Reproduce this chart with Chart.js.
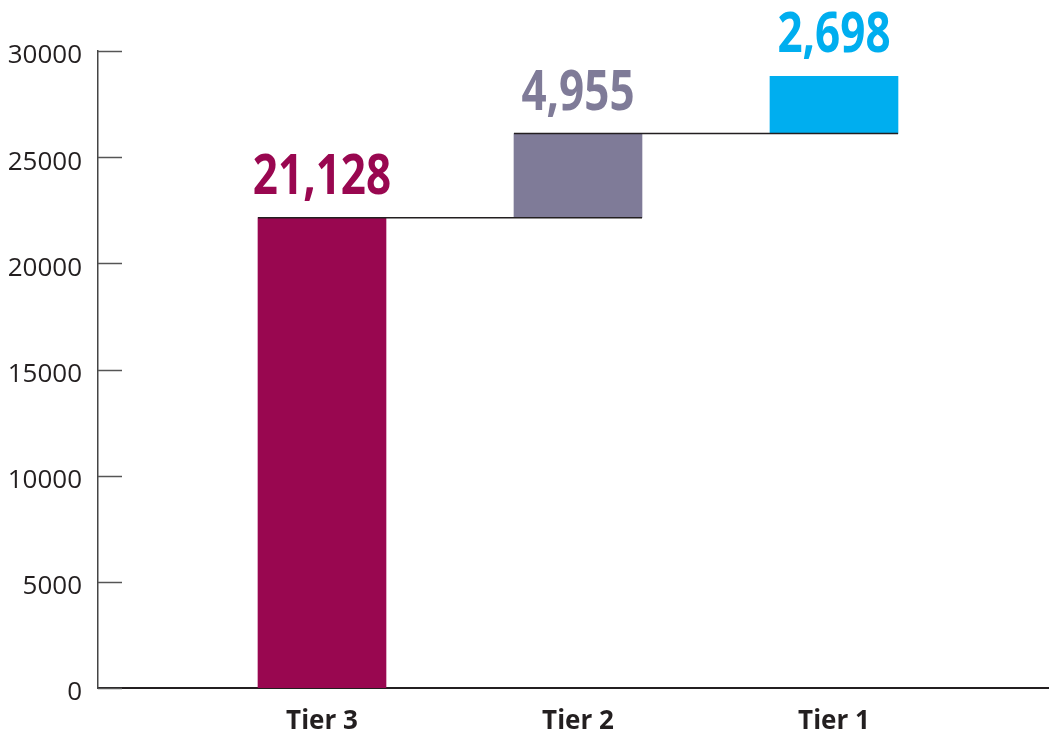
<!DOCTYPE html>
<html>
<head>
<meta charset="utf-8">
<script src="https://cdn.jsdelivr.net/npm/chart.js@4/dist/chart.umd.min.js"></script>
<style>
  html, body { margin: 0; padding: 0; background: #fff; }
  #wrap { width: 1049px; height: 738px; }
</style>
</head>
<body>
<div id="wrap"><canvas id="chart"></canvas></div>
<script>
// data
const categories = ['Tier 3', 'Tier 2', 'Tier 1'];
const valueLabels = ['21,128', '4,955', '2,698'];
const barStart = [0, 22150, 26110];
const barEnd = [22150, 26110, 28810];
const barColors = ['#990750', '#7f7b98', '#00aeef'];
const yTicks = [0, 5000, 10000, 15000, 20000, 25000, 30000];

// floating bars for the waterfall
const barData = categories.map((c, i) => ({ x: i, y: [barStart[i], barEnd[i]] }));

// connector lines across the top of each step
const connector1 = [{ x: -0.25, y: barEnd[0] }, { x: 1.25, y: barEnd[0] }];
const connector2 = [{ x: 0.75, y: barEnd[1] }, { x: 2.25, y: barEnd[1] }];

// value text over each bar + inward tick marks on the y axis
const extras = {
    id: 'extras',
    afterDatasetsDraw(chart) {
        const ctx = chart.ctx;
        const meta = chart.getDatasetMeta(0);
        ctx.save();
        ctx.font = 'bold 55px "Open Sans", sans-serif';
        ctx.textAlign = 'center';
        ctx.textBaseline = 'alphabetic';
        meta.data.forEach((bar, i) => {
            ctx.save();
            ctx.translate(bar.x, bar.y - 24);
            ctx.scale(0.8, 1); // condensed look
            ctx.fillStyle = barColors[i];
            ctx.fillText(valueLabels[i], 0, 0);
            ctx.restore();
        });

        const yScale = chart.scales.y;
        const left = chart.chartArea.left;
        ctx.strokeStyle = '#555';
        ctx.lineWidth = 1.5;
        yScale.ticks.forEach(t => {
            const py = Math.round(yScale.getPixelForValue(t.value)) + 0.5;
            ctx.beginPath();
            ctx.moveTo(left, py);
            ctx.lineTo(left + 24, py);
            ctx.stroke();
        });
        ctx.restore();
    }
};

const ctx = document.getElementById('chart').getContext('2d');
new Chart(ctx, {
    data: {
        datasets: [
            {
                type: 'bar',
                data: barData,
                backgroundColor: barColors,
                borderWidth: 0,
                barThickness: 128,
                order: 2
            },
            {
                type: 'line',
                data: connector1,
                borderColor: '#231f20',
                borderWidth: 1.5,
                pointRadius: 0,
                fill: false,
                order: 1
            },
            {
                type: 'line',
                data: connector2,
                borderColor: '#231f20',
                borderWidth: 1.5,
                pointRadius: 0,
                fill: false,
                order: 1
            }
        ]
    },
    plugins: [extras],
    options: {
        responsive: true,
        maintainAspectRatio: false,
        animation: false,
        layout: { padding: { top: 51, right: 1, left: 0, bottom: 0 } },
        plugins: {
            legend: { display: false },
            tooltip: { enabled: false }
        },
        scales: {
            x: {
                type: 'linear',
                offset: false,
                min: -0.875,
                max: 2.836,
                grid: { display: false, drawTicks: false, offset: false },
                border: { display: true, color: '#231f20', width: 2 },
                afterFit(scale) { scale.height = 50; },
                afterBuildTicks(scale) {
                    scale.ticks = categories.map((c, i) => ({ value: i }));
                },
                ticks: {
                    padding: 18,
                    color: '#231f20',
                    font: { family: '"Open Sans", sans-serif', size: 26, weight: 'bold' },
                    callback: (v) => categories[v]
                }
            },
            y: {
                min: 0,
                max: 30000,
                grid: { display: false, drawTicks: false },
                border: { display: true, color: '#444', width: 1.5 },
                afterFit(scale) { scale.width = 98; },
                afterBuildTicks(scale) {
                    scale.ticks = yTicks.map(v => ({ value: v }));
                },
                ticks: {
                    padding: 16,
                    labelOffset: 5,
                    color: '#231f20',
                    font: { family: '"Open Sans", sans-serif', size: 26 },
                    callback: (v) => String(v)
                }
            }
        }
    }
});
</script>
</body>
</html>
